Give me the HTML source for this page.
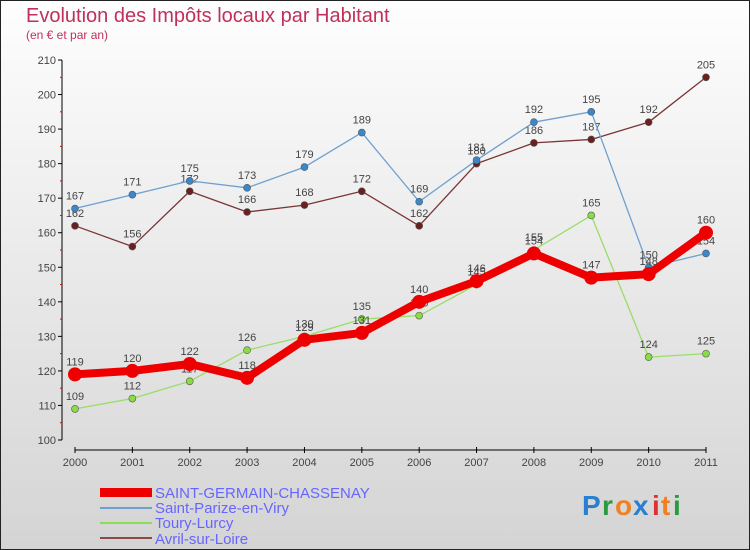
<!DOCTYPE html>
<html><head><meta charset="utf-8"><style>
body{margin:0;}
#wrap{width:750px;height:550px;position:relative;background:linear-gradient(#fefefe,#d4d4d4);box-sizing:border-box;border:1px solid #222;font-family:"Liberation Sans",sans-serif;overflow:hidden}
text{font-family:"Liberation Sans",sans-serif}
</style></head><body>
<div id="wrap">
<svg id="chart" width="750" height="550" style="position:absolute;left:-1px;top:-1px">
<text x="26" y="22" font-size="20" fill="#c0305a">Evolution des Impôts locaux par Habitant</text>
<text x="26" y="39" font-size="12" fill="#c0305a">(en € et par an)</text>
<g id="axes"></g><g id="series"></g>
<g>
<rect x="100" y="488" width="52" height="9" fill="#e00"/>
<text x="155" y="498" font-size="15" fill="#6666ff">SAINT-GERMAIN-CHASSENAY</text>
<rect x="100" y="507" width="52" height="2" fill="#6fa0d0"/>
<text x="155" y="513" font-size="15" fill="#6666ff">Saint-Parize-en-Viry</text>
<rect x="100" y="522" width="52" height="2" fill="#88dd55"/>
<text x="155" y="528" font-size="15" fill="#6666ff">Toury-Lurcy</text>
<rect x="100" y="537" width="52" height="2" fill="#8a4a4a"/>
<text x="155" y="544" font-size="15" fill="#6666ff">Avril-sur-Loire</text>
</g>
<g font-size="28" font-weight="bold">
<text x="582" y="515" fill="#2a7fd0">P</text><text x="602" y="515" fill="#2a9a40">r</text><text x="615" y="515" fill="#f08020">o</text><text x="633" y="515" fill="#2a7fd0">x</text><text x="652" y="515" fill="#e03030">i</text><text x="661" y="515" fill="#f08020">t</text><text x="673" y="515" fill="#2a9a40">i</text>
</g>
</svg>
</div>
<script>
const years=[2000,2001,2002,2003,2004,2005,2006,2007,2008,2009,2010,2011];
const stGermain=[119,120,122,118,129,131,140,146,154,147,148,160];
const stParize=[167,171,175,173,179,189,169,181,192,195,150,154];
const toury=[109,112,117,126,130,135,136,145,155,165,124,125];
const avril=[162,156,172,166,168,172,162,180,186,187,192,205];
const yTicks=[100,110,120,130,140,150,160,170,180,190,200,210];
const NS="http://www.w3.org/2000/svg";
const X=i=>75+i*(706-75)/11;
const Y=v=>440-(v-100)*(380/110);
function mk(tag,attrs,parent){const e=document.createElementNS(NS,tag);for(const k in attrs)e.setAttribute(k,attrs[k]);parent.appendChild(e);return e;}
const ax=document.getElementById('axes');
let l=mk('line',{x1:62,y1:Y(210),x2:62,y2:Y(100),stroke:'#000','stroke-width':1},ax);


yTicks.forEach((v,i)=>{
 mk('line',{x1:58,x2:62,y1:Y(v),y2:Y(v),stroke:'#000'},ax);
 if(i<yTicks.length-1) mk('line',{x1:60,x2:62,y1:Y(v+5),y2:Y(v+5),stroke:'#e00'},ax);
 const t=mk('text',{x:56,y:Y(v)+4,'font-size':11,fill:'#444','text-anchor':'end'},ax);
 t.textContent=v;
 
 
});
l=mk('line',{x1:75,y1:450,x2:706,y2:450,stroke:'#000'},ax);


years.forEach((y,i)=>{
 mk('line',{x1:X(i),x2:X(i),y1:447,y2:453,stroke:'#000'},ax);
 const t=mk('text',{x:X(i),y:466,'font-size':11,fill:'#444','text-anchor':'middle'},ax);
 t.textContent=y;
 
 
});
const sg=document.getElementById('series');
function draw(vals,color,w,r,ptFill,name){
 const g=mk('g',{},sg);
 
 
 mk('polyline',{points:vals.map((v,i)=>X(i)+','+Y(v)).join(' '),fill:'none',stroke:color,'stroke-width':w,'stroke-linejoin':'round'},g);
 vals.forEach((v,i)=>{
  const c=mk('circle',{cx:X(i),cy:Y(v),r:r,fill:ptFill,stroke:'#555','stroke-width':r>5?0:0.6},g);
  
  
  const t=mk('text',{x:X(i),y:Y(v)-9,'font-size':11,fill:'#444','text-anchor':'middle'},g);
  t.textContent=v;
 });
}
draw(toury,'#99dd66',1.3,3.5,'#88dd44','series-toury-lurcy');
draw(avril,'#7a3535',1.3,3.5,'#6a2020','series-avril-sur-loire');
draw(stParize,'#6fa0d0',1.3,3.5,'#3a88cc','series-saint-parize');
draw(stGermain,'#ee0000',8,7,'#ee0000','series-saint-germain');
</script>
</body></html>
